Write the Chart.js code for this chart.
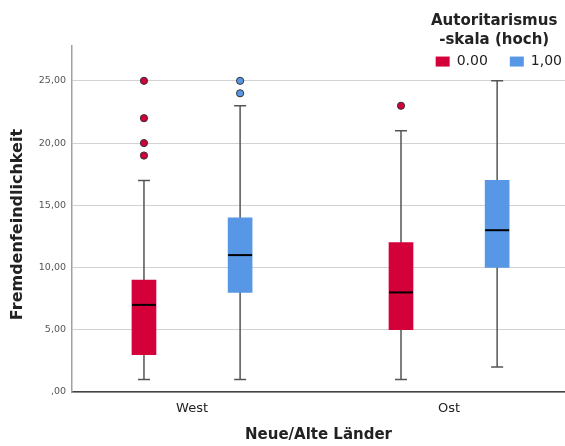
<!DOCTYPE html>
<html><head><meta charset="utf-8">
<script src="https://cdn.jsdelivr.net/npm/chart.js@4"></script>
<style>html,body{margin:0;padding:0;background:#fff}</style>
</head><body>
<canvas id="c" width="565" height="446"></canvas>
<script>
// ---- data ----
const categories = ['West', 'Ost'];
const groupLabels = ['0.00', '1,00'];
const yTicks = [0, 5, 10, 15, 20, 25];

// group "0.00"
const lowMin = [1, 1];
const lowQ1 = [3, 5];
const lowMedian = [7, 8];
const lowQ3 = [9, 12];
const lowMax = [17, 21];
const lowOutliers = [[19, 20, 22, 25], [23]];

// group "1,00"
const highMin = [1, 2];
const highQ1 = [8, 10];
const highMedian = [11, 13];
const highQ3 = [14, 17];
const highMax = [23, 25];
const highOutliers = [[24, 25], []];

// ---- styling / layout constants ----
const COLORS = ['#d4003a', '#5797e5'];
const GROUP_OFFSET = 0.187;
const LEGEND_SHIFT = 19;

const series = [
  { label: groupLabels[0], color: COLORS[0], min: lowMin, q1: lowQ1, med: lowMedian, q3: lowQ3, max: lowMax, out: lowOutliers, side: -1 },
  { label: groupLabels[1], color: COLORS[1], min: highMin, q1: highQ1, med: highMedian, q3: highQ3, max: highMax, out: highOutliers, side: 1 }
];

const boxDatasets = series.map(s => ({
  type: 'bar',
  label: s.label,
  data: categories.map((c, i) => ({ x: i + s.side * GROUP_OFFSET, y: [s.q1[i], s.q3[i]] })),
  backgroundColor: s.color,
  borderWidth: 0,
  grouped: false,
  barThickness: 24,
  order: 2
}));

const outlierDatasets = series.map(s => ({
  type: 'scatter',
  label: s.label + ' outliers',
  data: categories.flatMap((c, i) => s.out[i].map(v => ({ x: i + s.side * GROUP_OFFSET, y: v }))),
  backgroundColor: s.color,
  borderColor: '#333',
  borderWidth: 1,
  pointRadius: 3.6,
  order: 1
}));

const fmt = v => v === 0 ? ',00' : Number(v).toFixed(2).replace('.', ',');

const boxPlugin = {
  id: 'boxWhiskers',
  beforeDatasetsDraw(chart) {
    const ctx = chart.ctx, y = chart.scales.y;
    series.forEach((s, di) => {
      const meta = chart.getDatasetMeta(di);
      meta.data.forEach((el, j) => {
        const x = el.x;
        const yMin = y.getPixelForValue(s.min[j]);
        const yMax = y.getPixelForValue(s.max[j]);
        ctx.save();
        ctx.strokeStyle = '#555';
        ctx.lineWidth = 1.5;
        ctx.beginPath();
        ctx.moveTo(x, yMin); ctx.lineTo(x, yMax);
        ctx.moveTo(x - 6, yMin); ctx.lineTo(x + 6, yMin);
        ctx.moveTo(x - 6, yMax); ctx.lineTo(x + 6, yMax);
        ctx.stroke();
        ctx.restore();
      });
    });
  },
  afterDatasetsDraw(chart) {
    const ctx = chart.ctx, y = chart.scales.y;
    series.forEach((s, di) => {
      const meta = chart.getDatasetMeta(di);
      meta.data.forEach((el, j) => {
        const half = el.width / 2;
        const ym = y.getPixelForValue(s.med[j]);
        ctx.save();
        ctx.strokeStyle = '#000';
        ctx.lineWidth = 2;
        ctx.beginPath();
        ctx.moveTo(el.x - half, ym); ctx.lineTo(el.x + half, ym);
        ctx.stroke();
        ctx.restore();
      });
    });
  },
  afterLayout(chart) {
    const lg = chart.legend;
    if (lg) {
      lg.left += LEGEND_SHIFT;
      lg.right += LEGEND_SHIFT;
      lg.bottom += 30;
      lg.height += 30;
    }
  }
};

Chart.defaults.font.family = "'DejaVu Sans', sans-serif";
Chart.defaults.color = '#222';

new Chart(document.getElementById('c'), {
  data: { datasets: [...boxDatasets, ...outlierDatasets] },
  options: {
    responsive: false,
    animation: false,
    layout: { padding: 0, autoPadding: false },
    plugins: {
      tooltip: { enabled: false },
      legend: {
        position: 'top',
        align: 'end',
        maxHeight: 46,
        labels: {
          boxWidth: 14,
          boxHeight: 10,
          padding: 22,
          font: { size: 14 },
          color: '#222',
          filter: item => item.datasetIndex < 2
        },
        title: {
          display: true,
          text: ['Autoritarismus      ', '-skala (hoch)      '],
          font: { size: 15, weight: 'bold', lineHeight: 1.27 },
          color: '#222',
          padding: { top: 13.5, bottom: 0 }
        }
      }
    },
    scales: {
      x: {
        type: 'linear',
        offset: false,
        min: -0.467,
        max: 1.451,
        afterBuildTicks: s => { s.ticks = categories.map((c, i) => ({ value: i })); },
        ticks: { callback: v => categories[v], color: '#222', font: { size: 13 }, padding: 9, autoSkip: false, maxRotation: 0 },
        grid: { display: false, drawTicks: false, offset: false },
        border: { display: true, color: '#444', width: 1.5 },
        title: { display: true, text: 'Neue/Alte Länder', font: { size: 15, weight: 'bold' }, color: '#222', padding: { top: 0, bottom: 2 } },
        afterFit: s => { s.height = 54; }
      },
      y: {
        type: 'linear',
        min: 0,
        max: 27.8,
        afterBuildTicks: s => { s.ticks = yTicks.map(v => ({ value: v })); },
        ticks: { callback: fmt, color: '#555', font: { size: 9.5 }, padding: 6 },
        grid: { color: '#d2d2d2', lineWidth: 1, drawTicks: false },
        border: { color: '#a0a0a0', width: 1.5 },
        title: { display: true, text: 'Fremdenfeindlichkeit  ', font: { size: 16, weight: 'bold' }, color: '#222', padding: { top: 8, bottom: 0 } },
        afterFit: s => { s.width = 72; }
      }
    }
  },
  plugins: [boxPlugin]
});
</script>
</body></html>
